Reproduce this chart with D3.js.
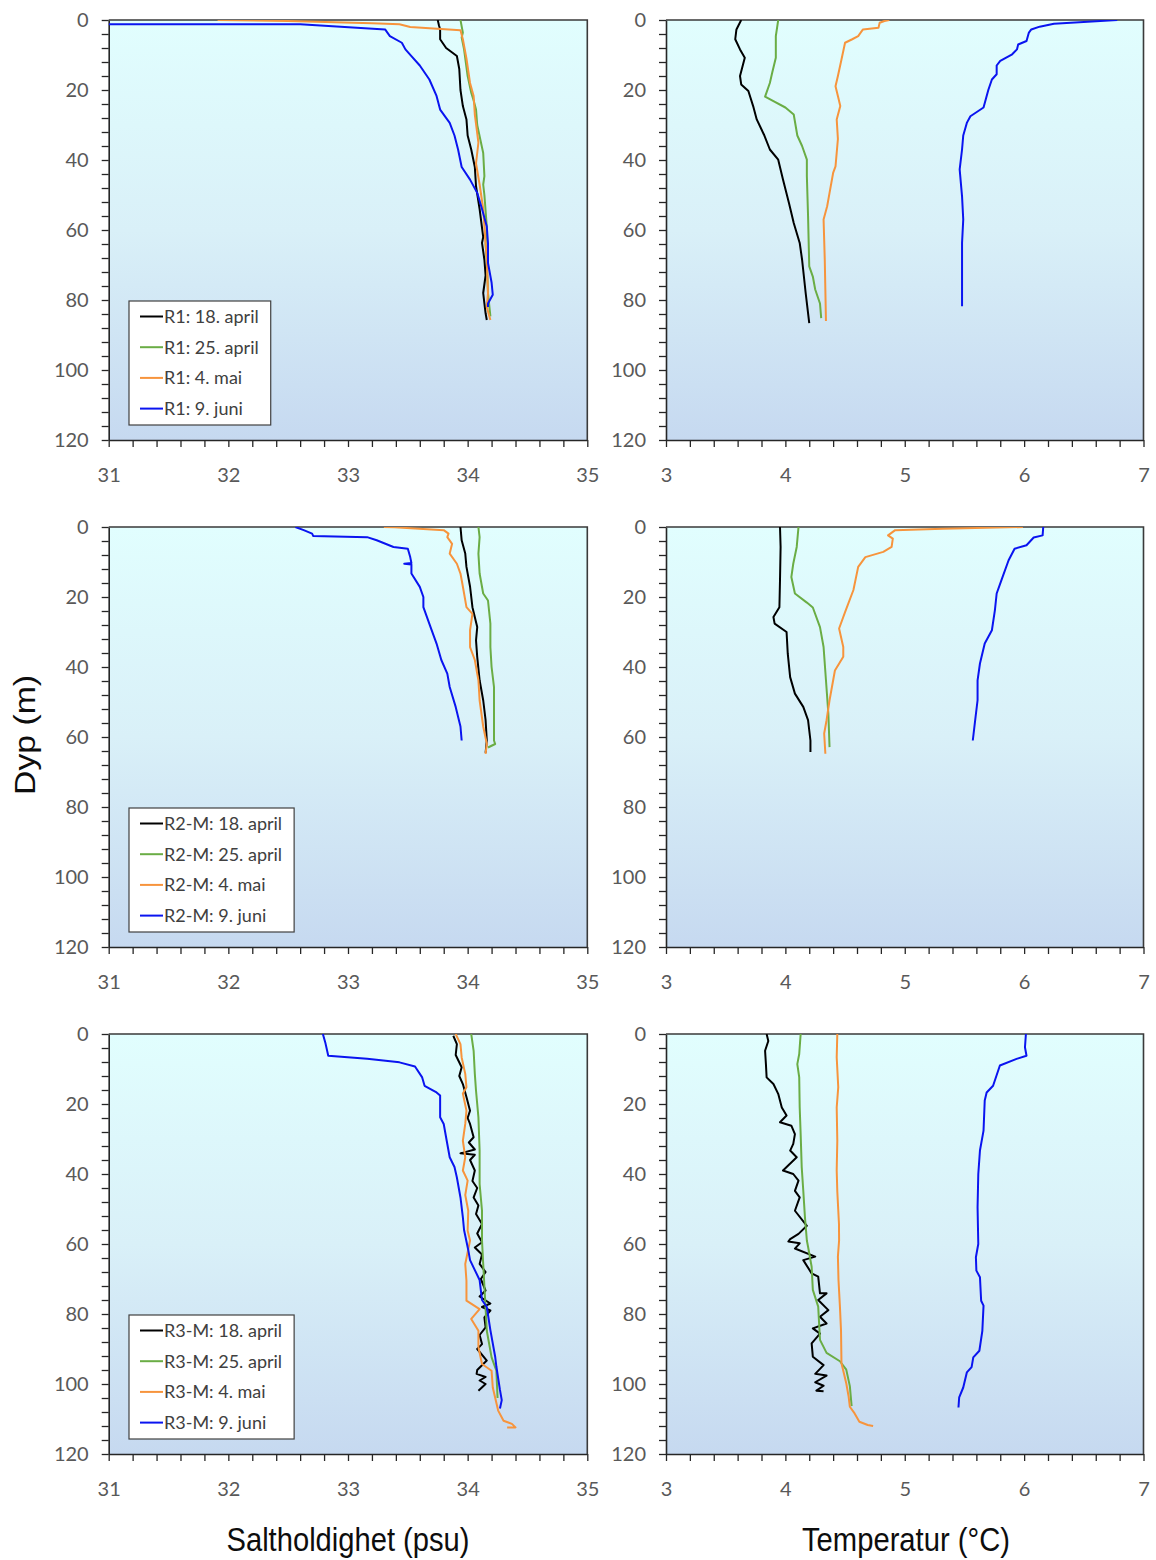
<!DOCTYPE html>
<html>
<head>
<meta charset="utf-8">
<script src="https://cdn.jsdelivr.net/npm/d3@7"></script>
<style>
  body { margin: 0; background: #ffffff; }
  svg { display: block; }
</style>
</head>
<body>
<svg id="chart" width="1156" height="1560"></svg>
<script>
// ---- Categories and tick values ----
const stations = ["R1", "R2-M", "R3-M"];
const surveyDates = ["18. april", "25. april", "4. mai", "9. juni"];
const salinityTicks = [31, 32, 33, 34, 35];
const temperatureTicks = [3, 4, 5, 6, 7];
const depthTicks = [0, 20, 40, 60, 80, 100, 120];

// ---- Profiles: [value, depth (m)] ----
// R1 salinity (psu)
const r1Sal18apr = [[33.75,0],[33.76,1.5],[33.77,2.7],[33.77,5.5],[33.82,8],[33.91,10.3],[33.93,14],[33.94,20],[33.96,24.6],[33.99,28.4],[34.0,33],[34.03,37],[34.06,42],[34.07,47.5],[34.10,54],[34.13,62],[34.12,63.7],[34.14,68.5],[34.15,73],[34.13,78],[34.14,81],[34.15,83.8],[34.16,85.7]];
const r1Sal25apr = [[33.94,0],[33.96,3.6],[33.95,5],[33.97,8.4],[34.0,16],[34.03,20.8],[34.05,23],[34.07,25.6],[34.08,30],[34.13,38],[34.14,44.6],[34.13,47],[34.14,50],[34.16,59],[34.15,64],[34.16,68.5],[34.17,78],[34.19,84.7]];
const r1Sal4mai = [[31.91,0],[32.5,0.3],[33.2,0.9],[33.43,1.2],[33.52,2.0],[33.94,2.9],[33.96,5.5],[33.99,11],[34.02,18],[34.05,21.7],[34.06,27],[34.09,35],[34.07,41],[34.10,47],[34.13,54],[34.14,59],[34.15,64],[34.16,68.5],[34.17,78],[34.16,82],[34.19,85.7]];
const r1Sal9jun = [[31.0,1.2],[32.6,1.2],[33.31,2.7],[33.35,4.6],[33.45,6.5],[33.48,8.4],[33.53,10.3],[33.60,13],[33.68,17],[33.74,21.7],[33.77,25.6],[33.85,29.4],[33.89,33],[33.92,37],[33.95,42],[34.02,45.6],[34.08,49.4],[34.12,54],[34.16,59],[34.17,63.7],[34.17,69.4],[34.20,75],[34.21,78.5],[34.17,81],[34.17,82]];
// R1 temperature (°C)
const r1Tmp18apr = [[3.63,0],[3.59,2.7],[3.58,5.5],[3.62,8.4],[3.66,10.8],[3.62,16],[3.63,18.4],[3.69,20.3],[3.73,24.6],[3.76,28.4],[3.82,32.7],[3.87,37],[3.94,39.9],[3.98,45.6],[4.03,52.3],[4.07,58],[4.12,63.7],[4.14,68.5],[4.17,78],[4.20,86.6]];
const r1Tmp25apr = [[3.94,0],[3.92,4.6],[3.92,10.8],[3.89,15],[3.87,18],[3.83,21.9],[3.90,23.2],[4.0,25],[4.07,27],[4.10,33],[4.14,36],[4.18,39.9],[4.18,44.6],[4.19,56],[4.20,70.4],[4.23,73.3],[4.25,77],[4.29,81],[4.30,85.2]];
const r1Tmp4mai = [[4.87,0],[4.83,0.3],[4.79,0.8],[4.78,2.2],[4.65,2.7],[4.61,4.6],[4.56,5.5],[4.50,6.5],[4.47,11.3],[4.44,16],[4.42,18.9],[4.44,21.7],[4.46,24.6],[4.43,28.4],[4.44,34],[4.42,41.8],[4.40,43.7],[4.37,49.4],[4.35,53.2],[4.32,57],[4.33,68.5],[4.34,86]];
const r1Tmp9jun = [[6.78,0],[6.25,1.1],[6.13,1.9],[6.06,2.7],[6.04,3.6],[6.02,6],[5.95,7],[5.94,8.4],[5.90,9.8],[5.80,11.7],[5.77,13],[5.77,15.5],[5.73,17],[5.70,20],[5.66,25],[5.55,27.5],[5.52,29.4],[5.49,33],[5.48,37],[5.46,42.7],[5.48,50.4],[5.49,57],[5.48,63.7],[5.48,81.8]];
// R2-M salinity (psu)
const r2Sal18apr = [[33.94,0],[33.95,3.8],[33.98,7.6],[33.99,11.4],[34.02,17],[34.04,22.9],[34.08,28.6],[34.07,32.4],[34.08,37.1],[34.10,43.8],[34.13,49.5],[34.15,55.2],[34.16,61],[34.15,64.5]];
const r2Sal25apr = [[34.09,0],[34.10,2.9],[34.09,7.6],[34.10,13.3],[34.13,19],[34.17,21],[34.19,27.6],[34.19,34.3],[34.20,40],[34.22,45.7],[34.22,53.3],[34.22,61],[34.23,62],[34.17,63]];
const r2Sal4mai = [[33.30,0],[33.39,0.1],[33.80,0.9],[33.84,1.9],[33.83,2.9],[33.87,4.8],[33.85,7.6],[33.91,10.5],[33.94,13.3],[33.96,17],[33.99,22.9],[34.04,24.8],[34.02,29.5],[34.02,34.3],[34.06,38],[34.09,43.8],[34.10,49.5],[34.13,57],[34.16,61.9],[34.15,64.8]];
const r2Sal9jun = [[32.56,0],[32.63,0.9],[32.70,1.9],[32.71,2.6],[33.16,2.9],[33.24,3.8],[33.38,5.7],[33.50,6.2],[33.52,8.6],[33.53,10.3],[33.47,10.5],[33.53,10.7],[33.53,13.3],[33.60,17.1],[33.63,20],[33.63,22.9],[33.69,28.6],[33.74,33.3],[33.78,38],[33.83,41.9],[33.85,45.7],[33.90,51.4],[33.94,57],[33.95,61]];
// R2-M temperature (°C)
const r2Tmp18apr = [[3.955,0],[3.96,5.7],[3.955,15.2],[3.95,22.9],[3.90,25.7],[3.91,27.6],[4.01,30],[4.02,36.2],[4.04,42.9],[4.08,47.6],[4.15,51.4],[4.19,55.2],[4.21,61],[4.21,64.3]];
const r2Tmp25apr = [[4.11,0],[4.095,5.7],[4.066,10.5],[4.05,14.3],[4.08,19],[4.18,21.6],[4.23,23],[4.29,28.6],[4.32,34.3],[4.34,43.8],[4.36,53.3],[4.37,62.9]];
const r2Tmp4mai = [[5.99,0],[5.32,0.5],[4.92,0.9],[4.86,2.4],[4.90,3.3],[4.89,5.7],[4.82,7.1],[4.67,8.6],[4.61,11.4],[4.57,18],[4.50,24.3],[4.45,29],[4.485,34.3],[4.485,37.1],[4.415,41],[4.37,49.5],[4.345,55.2],[4.325,59],[4.335,64.8]];
const r2Tmp9jun = [[6.16,0],[6.155,2.4],[6.08,3],[6.02,5.2],[5.92,6.2],[5.87,9.5],[5.81,15.2],[5.77,19],[5.755,23.8],[5.73,29.5],[5.67,33.3],[5.63,39],[5.61,43.8],[5.61,49.5],[5.59,55.2],[5.57,61]];
// R3-M salinity (psu)
const r3Sal18apr = [[33.88,0.5],[33.91,2.9],[33.90,6],[33.95,9.5],[33.93,12],[33.96,14.3],[33.99,18],[34.02,21.9],[34.00,24],[34.02,25.7],[34.05,29.5],[34.01,31],[34.06,33],[33.94,34.1],[34.06,34.5],[34.02,36],[34.06,39],[34.04,42],[34.08,44],[34.05,46.7],[34.09,49],[34.07,51.4],[34.12,54.3],[34.08,57],[34.12,59.5],[34.06,61],[34.12,63],[34.10,65.7],[34.15,68],[34.11,70],[34.15,73.3],[34.10,75],[34.19,77],[34.12,78],[34.19,79],[34.14,81],[34.15,83.8],[34.10,86],[34.12,88.6],[34.08,90],[34.16,93.3],[34.08,96],[34.075,97.1],[34.15,98],[34.10,99],[34.15,100],[34.09,101.9]];
const r3Sal25apr = [[34.03,0],[34.05,4.8],[34.06,11.4],[34.07,16.2],[34.09,23.8],[34.10,33.3],[34.10,42.9],[34.12,50.5],[34.12,59],[34.13,65.7],[34.145,75.2],[34.16,84.8],[34.20,92.4],[34.24,96.2],[34.25,104]];
const r3Sal4mai = [[33.90,0],[33.94,2.9],[33.95,6.7],[33.98,11.4],[33.99,15.2],[33.96,17],[33.99,21.9],[33.98,25.7],[33.96,30.5],[33.98,35.2],[33.96,39],[34.00,41.9],[33.98,46],[34.005,50.5],[34.0,56.2],[34.02,59],[33.98,65.7],[33.99,70.5],[33.99,76.2],[34.10,78.6],[34.03,81.4],[34.09,84.8],[34.09,89.5],[34.12,94.3],[34.20,96.2],[34.21,101],[34.255,107.6],[34.30,110.5],[34.37,111.4],[34.40,112.4],[34.33,112.4]];
const r3Sal9jun = [[32.79,0],[32.81,2.4],[32.835,6.2],[33.16,7.1],[33.43,8.1],[33.56,9.3],[33.62,12.4],[33.64,14.8],[33.74,16.7],[33.77,17.6],[33.77,23.8],[33.80,25.7],[33.825,30.5],[33.85,35.2],[33.89,38],[33.91,41],[33.94,46.7],[33.96,52.4],[33.97,56],[34.005,61.7],[34.02,64.6],[34.10,70.3],[34.12,76],[34.16,78],[34.19,84.6],[34.23,92.2],[34.24,95],[34.27,101.7],[34.285,104.6],[34.27,107]];
// R3-M temperature (°C)
const r3Tmp18apr = [[3.843,0],[3.857,2],[3.83,4.8],[3.837,8.6],[3.843,12.4],[3.90,14.3],[3.94,17.1],[3.97,21],[4.01,23.3],[3.955,25.2],[4.05,26.2],[4.08,28.6],[4.066,31.4],[4.04,33.3],[4.095,35.2],[3.98,39],[4.066,40],[4.11,41.9],[4.08,44.8],[4.12,46.7],[4.08,50.5],[4.18,54.8],[4.11,57.1],[4.04,58.6],[4.025,59.3],[4.12,59.8],[4.08,61.3],[4.25,63.6],[4.15,64.6],[4.22,68.4],[4.275,69.3],[4.29,74.1],[4.345,74.1],[4.275,76],[4.36,78.9],[4.29,80.8],[4.345,82.7],[4.23,84.1],[4.29,85.6],[4.22,88.4],[4.23,92.2],[4.32,94.6],[4.25,97.1],[4.345,97.6],[4.25,99.5],[4.32,100.5],[4.26,101.9],[4.32,102.1]];
const r3Tmp25apr = [[4.128,0],[4.116,5.7],[4.10,8.6],[4.116,12.4],[4.12,21],[4.128,28.6],[4.137,38.1],[4.15,44.8],[4.164,52.4],[4.18,59],[4.19,60.8],[4.22,66.5],[4.23,73.1],[4.275,77.9],[4.29,87.4],[4.345,91.1],[4.457,93.5],[4.51,95.9],[4.54,100.6],[4.555,106.3]];
const r3Tmp4mai = [[4.435,0],[4.43,6.7],[4.443,15.2],[4.43,21],[4.435,30.5],[4.43,39],[4.435,45],[4.449,54.3],[4.45,59],[4.44,63.6],[4.445,70.3],[4.457,77.9],[4.466,84.6],[4.47,94.1],[4.51,99.8],[4.53,103.6],[4.54,106.5],[4.58,108.4],[4.62,110.8],[4.69,111.7],[4.735,112]];
const r3Tmp9jun = [[6.015,0],[6.007,3.8],[6.02,6.2],[5.937,7.1],[5.797,9],[5.74,14.8],[5.686,16.7],[5.67,19],[5.66,27.6],[5.63,33.3],[5.616,40],[5.61,49.5],[5.616,60],[5.596,63.8],[5.60,67.6],[5.63,69.5],[5.64,76.2],[5.66,77.6],[5.65,84.8],[5.625,90.5],[5.574,92.4],[5.56,95.2],[5.52,96.7],[5.49,101],[5.456,103.8],[5.45,106.7]];

// Group per station, order follows surveyDates
const salinityByStation = [
  [r1Sal18apr, r1Sal25apr, r1Sal4mai, r1Sal9jun],
  [r2Sal18apr, r2Sal25apr, r2Sal4mai, r2Sal9jun],
  [r3Sal18apr, r3Sal25apr, r3Sal4mai, r3Sal9jun]
];
const temperatureByStation = [
  [r1Tmp18apr, r1Tmp25apr, r1Tmp4mai, r1Tmp9jun],
  [r2Tmp18apr, r2Tmp25apr, r2Tmp4mai, r2Tmp9jun],
  [r3Tmp18apr, r3Tmp25apr, r3Tmp4mai, r3Tmp9jun]
];

// ---- Styling ----
const seriesColors = ["#000000", "#6aad45", "#f7943c", "#0a14f0"];
const tickFont = "Lato, 'Open Sans', sans-serif";
const titleFont = "'Liberation Sans', Arial, sans-serif";
const plotHeight = 420;
const rowTops = [20, 527, 1034];
const columns = [
  { x0: 108.7, x1: 587.3, domain: [31, 35], ticks: salinityTicks, data: salinityByStation },
  { x0: 666, x1: 1143.5, domain: [3, 7], ticks: temperatureTicks, data: temperatureByStation }
];

const svg = d3.select("#chart");
const defs = svg.append("defs");
const grad = defs.append("linearGradient")
  .attr("id", "plotFill").attr("x1", 0).attr("y1", 0).attr("x2", 0).attr("y2", 1);
grad.append("stop").attr("offset", "0%").attr("stop-color", "#e1fefe");
grad.append("stop").attr("offset", "50%").attr("stop-color", "#d9f0f8");
grad.append("stop").attr("offset", "100%").attr("stop-color", "#c6d9f0");

const isWhole = v => Math.abs(v - Math.round(v)) < 1e-6;

rowTops.forEach((top, row) => {
  columns.forEach((col, ci) => {
    const x = d3.scaleLinear().domain(col.domain).range([col.x0, col.x1]);
    const y = d3.scaleLinear().domain([0, 120]).range([top, top + plotHeight]);
    const g = svg.append("g");
    const clipId = `clip-${row}-${ci}`;
    defs.append("clipPath").attr("id", clipId)
      .append("rect").attr("x", col.x0).attr("y", top)
      .attr("width", col.x1 - col.x0).attr("height", plotHeight);

    // plot area background
    g.append("rect")
      .attr("x", col.x0).attr("y", top)
      .attr("width", col.x1 - col.x0).attr("height", plotHeight)
      .attr("fill", "url(#plotFill)");

    // y axis: minor ticks every 4 m, labels every 20 m
    const yAxis = d3.axisLeft(y)
      .tickValues(d3.range(0, 121, 4))
      .tickFormat(d => depthTicks.includes(d) ? d : "")
      .tickSize(7).tickSizeOuter(0).tickPadding(13);
    const ya = g.append("g").attr("transform", `translate(${col.x0},0)`).call(yAxis);

    // x axis: minor ticks every 0.2
    const minorX = d3.range(0, 21).map(i => col.domain[0] + i * 0.2);
    const xAxis = d3.axisBottom(x)
      .tickValues(minorX)
      .tickFormat(d => (isWhole(d) && col.ticks.includes(Math.round(d))) ? Math.round(d) : "")
      .tickSize(7).tickSizeOuter(0).tickPadding(21);
    const xa = g.append("g").attr("transform", `translate(0,${top + plotHeight})`).call(xAxis);

    [ya, xa].forEach(a => {
      a.select(".domain").attr("stroke", "#262626").attr("stroke-width", 1.6);
      a.selectAll(".tick line").attr("stroke", "#262626").attr("stroke-width", 1.3);
      a.selectAll(".tick text")
        .attr("font-family", tickFont).attr("font-size", 20).attr("fill", "#595959");
    });

    // top and right frame
    g.append("path")
      .attr("d", `M${col.x0},${top}H${col.x1}V${top + plotHeight}`)
      .attr("fill", "none").attr("stroke", "#3a3a3a").attr("stroke-width", 1.6);

    // profiles
    const line = d3.line().x(d => x(d[0])).y(d => y(d[1]));
    const lines = g.append("g").attr("clip-path", `url(#${clipId})`);
    col.data[row].forEach((series, si) => {
      lines.append("path")
        .datum(series)
        .attr("d", line)
        .attr("fill", "none")
        .attr("stroke", seriesColors[si])
        .attr("stroke-width", 2)
        .attr("stroke-linejoin", "round");
    });

    // legend in the salinity panels
    if (ci === 0) {
      const lx = 129, ly = top + 281, rowGap = 30.7;
      const leg = g.append("g");
      const box = leg.append("rect")
        .attr("x", lx).attr("y", ly)
        .attr("height", 124)
        .attr("fill", "#ffffff").attr("stroke", "#404040").attr("stroke-width", 1.2);
      let maxW = 0;
      surveyDates.forEach((dt, si) => {
        const cy = ly + 15.5 + si * rowGap;
        leg.append("line")
          .attr("x1", lx + 11).attr("x2", lx + 34)
          .attr("y1", cy).attr("y2", cy)
          .attr("stroke", seriesColors[si]).attr("stroke-width", 2);
        const t = leg.append("text")
          .attr("x", lx + 35).attr("y", cy).attr("dy", "0.35em")
          .attr("font-family", tickFont).attr("font-size", 18)
          .attr("fill", "#404040")
          .text(`${stations[row]}: ${dt}`);
        maxW = Math.max(maxW, t.node().getComputedTextLength());
      });
      box.attr("width", 35 + maxW + 12);
    }
  });
});

// axis titles
svg.append("text")
  .attr("x", 348).attr("y", 1551)
  .attr("text-anchor", "middle")
  .attr("font-family", titleFont).attr("font-size", 33).attr("fill", "#0d0d0d")
  .attr("textLength", 243).attr("lengthAdjust", "spacingAndGlyphs")
  .text("Saltholdighet (psu)");
svg.append("text")
  .attr("x", 906).attr("y", 1551)
  .attr("text-anchor", "middle")
  .attr("font-family", titleFont).attr("font-size", 33).attr("fill", "#0d0d0d")
  .attr("textLength", 208).attr("lengthAdjust", "spacingAndGlyphs")
  .text("Temperatur (°C)");
svg.append("text")
  .attr("transform", "translate(35,735) rotate(-90)")
  .attr("text-anchor", "middle")
  .attr("font-family", titleFont).attr("font-size", 30).attr("fill", "#0d0d0d")
  .attr("textLength", 120).attr("lengthAdjust", "spacingAndGlyphs")
  .text("Dyp (m)");
</script>
</body>
</html>
